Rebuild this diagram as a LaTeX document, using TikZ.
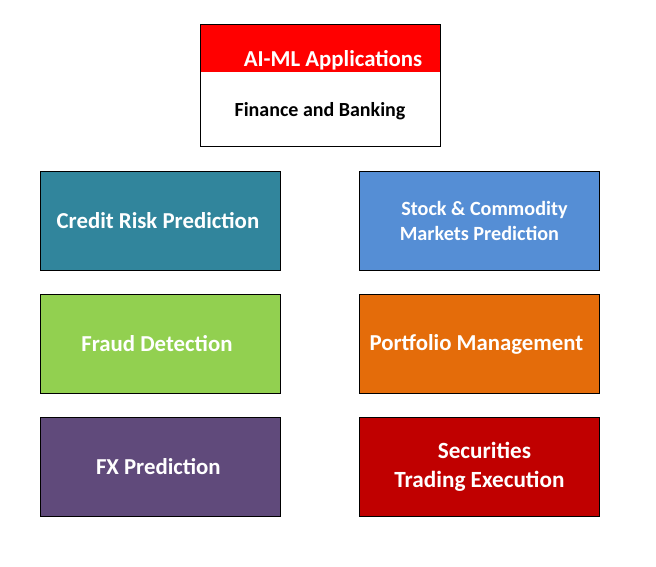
\documentclass[tikz,border=0pt]{standalone}
\usepackage{fontspec}
\setmainfont{Carlito}
\definecolor{cteal}{HTML}{31859C}
\definecolor{cblue}{HTML}{558ED5}
\definecolor{cgreen}{HTML}{92D050}
\definecolor{corange}{HTML}{E46C0A}
\definecolor{cpurple}{HTML}{604A7B}
\definecolor{cdred}{HTML}{C00000}
\definecolor{cred}{HTML}{FF0000}
\begin{document}
\begin{tikzpicture}[x=1pt,y=-1pt,
  appbox/.style={draw=black,line width=0.9pt,minimum width=240pt,minimum height=99pt,inner sep=0pt,
    text=white,font=\bfseries\fontsize{22.8}{25}\selectfont,align=center,anchor=north west}]
\useasboundingbox[fill=white] (0,0) rectangle (656,566);
% top box
\node[fill=cred,minimum width=240pt,minimum height=48pt,inner sep=0pt,anchor=north west] (hdr) at (200,24) {};
\node[anchor=center,text=white,font=\bfseries\fontsize{22.8}{26}\selectfont] (hdrtxt) at (333,60) {AI-ML Applications};
\node[draw=black,line width=0.9pt,minimum width=240pt,minimum height=122pt,inner sep=0pt,anchor=north west] (top) at (200,24) {};
\node[anchor=center,font=\bfseries\fontsize{20}{24}\selectfont] (subtxt) at (320,111) {Finance and Banking};
% application boxes
\node[appbox,fill=cteal] (credit) at (40,171) {\hspace*{-5pt}Credit Risk Prediction};
\node[appbox,fill=cblue,font=\bfseries\fontsize{20.2}{25.5}\selectfont] (stock) at (359,171) {\hspace*{10pt}Stock \& Commodity\\Markets Prediction};
\node[appbox,fill=cgreen] (fraud) at (40,294) {\hspace*{-7pt}Fraud Detection};
\node[appbox,fill=corange] (portfolio) at (359,294) {\hspace*{-6pt}Portfolio Management};
\node[appbox,fill=cpurple] (fx) at (40,417) {\hspace*{-4pt}FX Prediction};
\node[appbox,fill=cdred,font=\bfseries\fontsize{23.2}{29}\selectfont] (sec) at (359,417) {\hspace*{10pt}Securities\\Trading Execution};
\end{tikzpicture}
\end{document}
